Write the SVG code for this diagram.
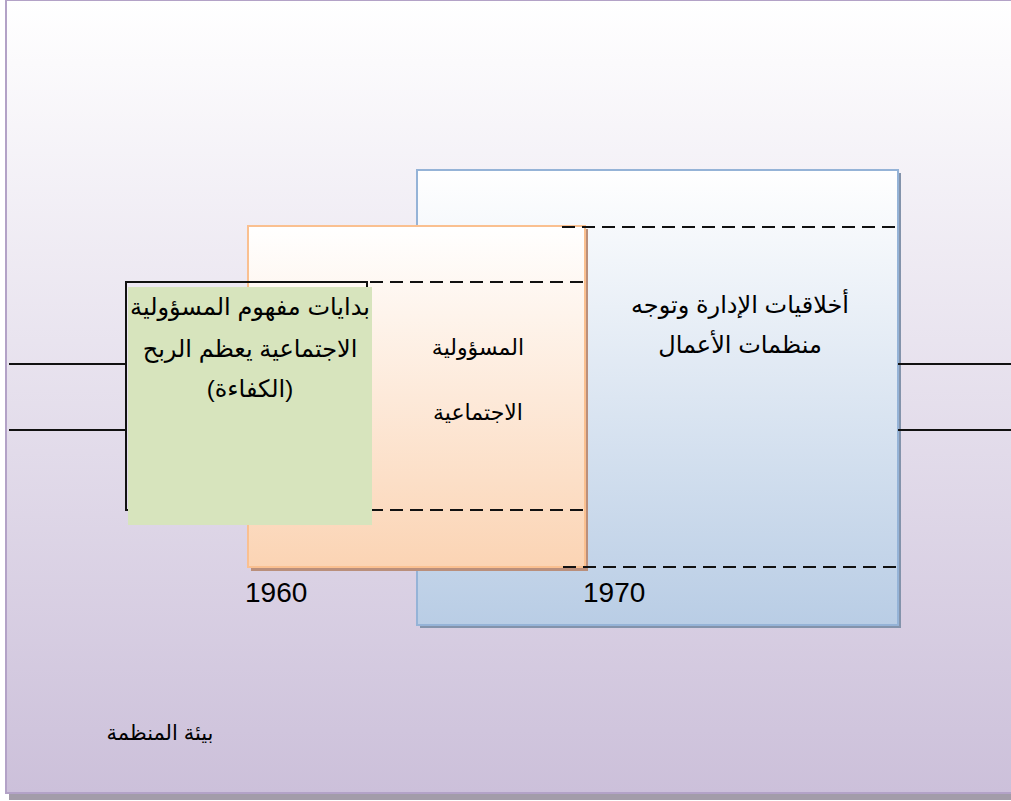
<svg xmlns="http://www.w3.org/2000/svg" width="1011" height="801" viewBox="0 0 1011 801">
  <defs>
    <linearGradient id="gBg" x1="0" y1="0" x2="0" y2="1">
      <stop offset="0" stop-color="#ffffff"/>
      <stop offset="1" stop-color="#ccc0da"/>
    </linearGradient>
    <linearGradient id="gBlue" x1="0" y1="0" x2="0" y2="1">
      <stop offset="0" stop-color="#ffffff"/>
      <stop offset="1" stop-color="#b9cde5"/>
    </linearGradient>
    <linearGradient id="gOrange" x1="0" y1="0" x2="0" y2="1">
      <stop offset="0" stop-color="#ffffff"/>
      <stop offset="1" stop-color="#fbd4b4"/>
    </linearGradient>
    <style>
      .ar { font-family: "Liberation Sans", "DejaVu Sans", sans-serif; fill: #000; direction: rtl; text-anchor: middle; }
      .num { font-family: "Liberation Sans", sans-serif; fill: #000; font-size: 28px; }
      .dash { stroke: #111; stroke-width: 2; stroke-dasharray: 13 7; fill: none; }
      .solid { stroke: #111; stroke-width: 2; fill: none; }
    </style>
  </defs>

  <g id="background">
    <rect x="9" y="794" width="1002" height="6" fill="#a39ca9"/>
    <rect x="6" y="0" width="1010" height="793" fill="url(#gBg)" stroke="#b3a2c7" stroke-width="2"/>
  </g>

  <g id="node-1970">
    <rect x="420" y="173" width="481" height="455" fill="#8393ab"/>
    <rect x="417" y="170" width="481" height="455" fill="url(#gBlue)" stroke="#95b3d7" stroke-width="2"/>
    <text class="ar" x="740" y="313" font-size="24">أخلاقيات الإدارة وتوجه</text>
    <text class="ar" x="740" y="353" font-size="24">منظمات الأعمال</text>
    <text class="num" x="583" y="602">1970</text>
  </g>

  <g id="node-1960">
    <rect x="251" y="229" width="337" height="342" fill="#ba8f7b"/>
    <rect x="248" y="226" width="337" height="341" fill="url(#gOrange)" stroke="#fac090" stroke-width="2"/>
    <text class="ar" x="478" y="355" font-size="22">المسؤولية</text>
    <text class="ar" x="478" y="420" font-size="22">الاجتماعية</text>
    <text class="num" x="245" y="602">1960</text>
  </g>

  <g id="connectors">
    <line class="solid" x1="9" y1="364" x2="126" y2="364"/>
    <line class="solid" x1="9" y1="430" x2="126" y2="430"/>
    <line class="solid" x1="898" y1="364" x2="1011" y2="364"/>
    <line class="solid" x1="898" y1="430" x2="1011" y2="430"/>
    <line class="dash" x1="562" y1="227" x2="898" y2="227"/>
    <line class="dash" x1="250" y1="282" x2="590" y2="282"/>
    <line class="dash" x1="250" y1="510" x2="590" y2="510"/>
    <line class="dash" x1="563" y1="567" x2="900" y2="567"/>
    <rect class="solid" x="126" y="282" width="241" height="228"/>
  </g>

  <g id="node-early">
    <rect x="128" y="287" width="244" height="238" fill="#d7e4bd"/>
    <text class="ar" x="250" y="315" font-size="24">بدايات مفهوم المسؤولية</text>
    <text class="ar" x="250" y="357" font-size="24">الاجتماعية يعظم الربح</text>
    <text class="ar" x="250" y="397" font-size="24">(الكفاءة)</text>
  </g>

  <g id="label-env">
    <text class="ar" x="160" y="740" font-size="21">بيئة المنظمة</text>
  </g>
</svg>
